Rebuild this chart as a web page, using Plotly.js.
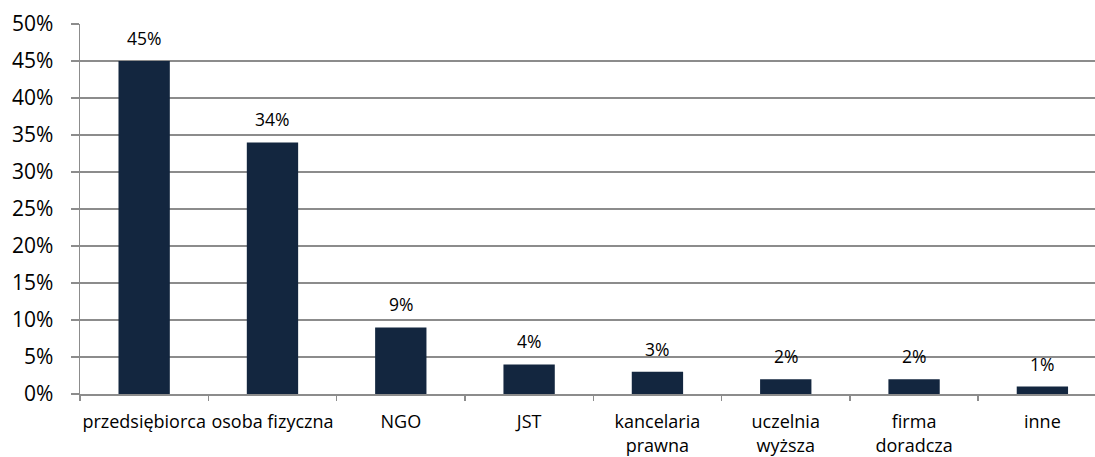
<!DOCTYPE html>
<html>
<head>
<meta charset="utf-8">
<script src="https://cdn.plot.ly/plotly-3.0.1.min.js"></script>
<style>html,body{margin:0;padding:0;background:#fff;}#chart{width:1095px;height:457px;}</style>
</head>
<body>
<div id="chart"></div>
<script>
const categories = ["przedsiębiorca", "osoba fizyczna", "NGO", "JST", "kancelaria<br>prawna", "uczelnia<br>wyższa", "firma<br>doradcza", "inne"];
const values = [0.45, 0.34, 0.09, 0.04, 0.03, 0.02, 0.02, 0.01];
const valueLabels = ["45%", "34%", "9%", "4%", "3%", "2%", "2%", "1%"];

const fontFam = "'Open Sans', Lato, sans-serif";
const grid = "#8c8c8c";

const trace = {
  type: "bar",
  x: categories,
  y: values,
  width: 0.4,
  marker: {color: "#13263f"},
  hoverinfo: "skip"
};

const annotations = categories.map((c, i) => ({
  x: c, y: values[i], text: valueLabels[i],
  xref: "x", yref: "y", showarrow: false,
  yshift: 23, font: {family: fontFam, size: 17.5, color: "#000"}
}));

const layout = {
  width: 1095, height: 457,
  margin: {l: 80, r: 0, t: 24, b: 63},
  paper_bgcolor: "#fff", plot_bgcolor: "#fff",
  showlegend: false,
  bargap: 0.6,
  xaxis: {
    type: "category",
    range: [-0.5, 7.41],
    tickson: "boundaries",
    ticks: "outside", ticklen: 5, tickcolor: grid, tickwidth: 1.5,
    showline: true, linecolor: grid, linewidth: 1.5,
    showgrid: false,
    tickangle: 0,
    ticklabelstandoff: 11,
    tickfont: {family: fontFam, size: 18, color: "#000"},
    fixedrange: true
  },
  yaxis: {
    range: [0, 0.5],
    dtick: 0.05,
    tickformat: ".0%",
    ticks: "outside", ticklen: 8, tickcolor: grid, tickwidth: 1.5,
    showline: true, linecolor: grid, linewidth: 1.5,
    showgrid: true, gridcolor: grid, gridwidth: 1.5,
    zeroline: false,
    ticklabelstandoff: 13,
    tickfont: {family: fontFam, size: 21, color: "#000"},
    fixedrange: true
  },
  annotations: annotations
};

Plotly.newPlot("chart", [trace], layout, {displayModeBar: false, staticPlot: true});
</script>
</body>
</html>
